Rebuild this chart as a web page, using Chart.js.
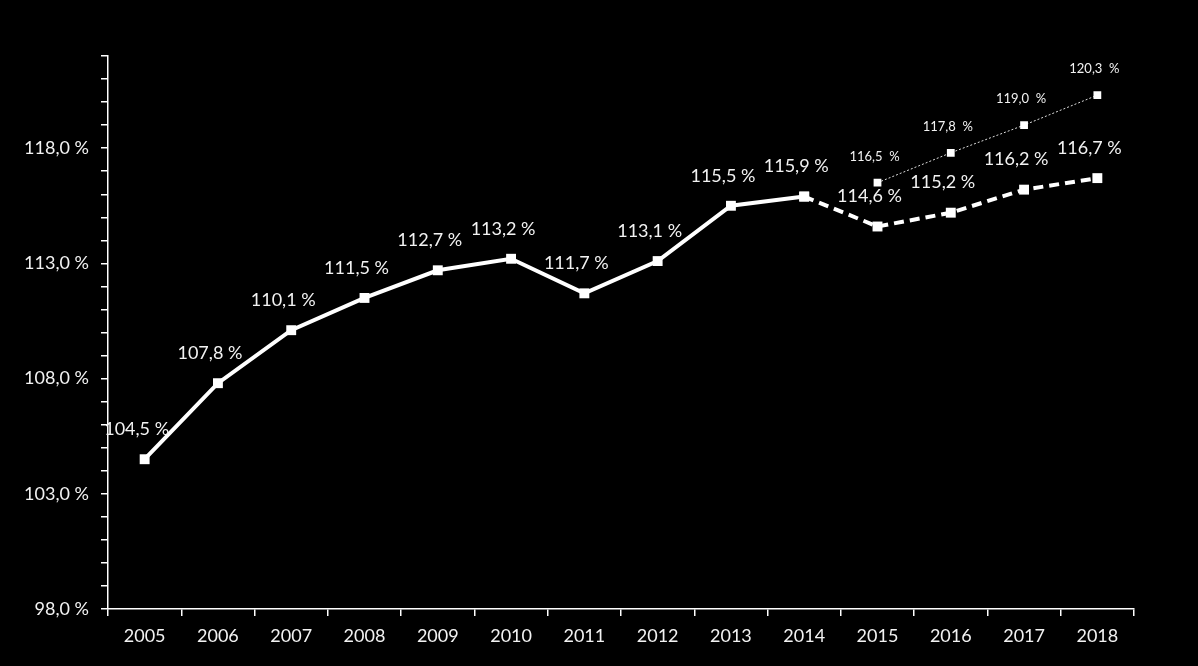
<!DOCTYPE html>
<html>
<head>
<meta charset="utf-8">
<script src="https://cdn.jsdelivr.net/npm/chart.js@4/dist/chart.umd.min.js"></script>
<style>
    html, body { margin: 0; padding: 0; background: #000; }
    #wrap { width: 1198px; height: 666px; }
</style>
</head>
<body>
<div id="wrap"><canvas id="chart" width="1198" height="666"></canvas></div>
<script>
// Data -----------------------------------------------------------------------------------

var YEARS = ['2005', '2006', '2007', '2008', '2009', '2010', '2011',
             '2012', '2013', '2014', '2015', '2016', '2017', '2018'];

// actual values 2005-2014
var ACTUAL = [104.5, 107.8, 110.1, 111.5, 112.7, 113.2, 111.7, 113.1, 115.5, 115.9,
              null, null, null, null];

// forecast (dashed), starts from 2014
var FORECAST = [null, null, null, null, null, null, null, null, null, 115.9,
                114.6, 115.2, 116.2, 116.7];

// alternative scenario (thin dotted)
var SCENARIO = [null, null, null, null, null, null, null, null, null, null,
                116.5, 117.8, 119.0, 120.3];

var Y_MIN = 98;
var Y_MAX = 122;

// Constants ------------------------------------------------------------------------------

var FONT = 'Lato, "Open Sans", sans-serif';
var TEXT_COLOR = '#f2f2f2';

// Functions ------------------------------------------------------------------------------

function formatPercent(v, sep) {
    return v.toFixed(1).replace('.', ',') + (sep || ' ') + '%';
}

var pointLabels = {
    id: 'pointLabels',
    afterDatasetsDraw: function(chart) {
        var ctx = chart.ctx;
        ctx.save();
        ctx.fillStyle = TEXT_COLOR;
        ctx.textAlign = 'center';
        ctx.textBaseline = 'middle';
        chart.data.datasets.forEach(function(ds, i) {
            var opts = ds.labelOpts;
            if (!opts) return;
            var meta = chart.getDatasetMeta(i);
            ctx.font = opts.size + 'px ' + FONT;
            meta.data.forEach(function(pt, j) {
                var v = ds.data[j];
                if (v === null || j < opts.from) return;
                ctx.fillText(formatPercent(v, opts.sep), pt.x + opts.dx, pt.y + opts.dy);
            });
        });
        ctx.restore();
    }
};

var context = document.getElementById('chart').getContext('2d');

var chart = new Chart(context, {
    type: 'line',
    data: {
        labels: YEARS,
        datasets: [{
            data: ACTUAL,
            borderColor: '#fff',
            borderWidth: 4,
            pointStyle: 'rect',
            pointRadius: 7,
            pointBackgroundColor: '#fff',
            pointBorderWidth: 0,
            tension: 0,
            labelOpts: { size: 18, dx: -8, dy: -30, from: 0 }
        }, {
            data: FORECAST,
            borderColor: '#fff',
            borderWidth: 4,
            borderDash: [10, 6],
            pointStyle: 'rect',
            pointRadius: 7,
            pointBackgroundColor: '#fff',
            pointBorderWidth: 0,
            tension: 0,
            labelOpts: { size: 18, dx: -8, dy: -30, from: 10 }
        }, {
            data: SCENARIO,
            borderColor: '#ddd',
            borderWidth: 1,
            borderDash: [2, 2],
            pointStyle: 'rect',
            pointRadius: 5.5,
            pointBackgroundColor: '#fff',
            pointBorderWidth: 0,
            tension: 0,
            labelOpts: { size: 13, dx: -3, dy: -26, from: 0, sep: '  ' }
        }]
    },
    options: {
        responsive: false,
        animation: false,
        spanGaps: false,
        layout: { padding: { left: 0, top: 56, right: 64, bottom: 0 } },
        plugins: {
            legend: { display: false },
            tooltip: { enabled: false }
        },
        scales: {
            x: {
                offset: true,
                grid: {
                    offset: true,
                    drawOnChartArea: false,
                    color: '#fff',
                    tickLength: 7,
                    lineWidth: 1.5
                },
                border: { color: '#fff', width: 1.5 },
                ticks: {
                    color: TEXT_COLOR,
                    font: { family: FONT, size: 18 },
                    padding: 9,
                    maxRotation: 0
                },
                afterFit: function(scale) { scale.height = 57; }
            },
            y: {
                min: Y_MIN,
                max: Y_MAX,
                grid: {
                    drawOnChartArea: false,
                    color: '#fff',
                    tickLength: 7,
                    lineWidth: 1.5
                },
                border: { color: '#fff', width: 1.5 },
                ticks: {
                    stepSize: 1,
                    autoSkip: false,
                    color: TEXT_COLOR,
                    font: { family: FONT, size: 18 },
                    padding: 12,
                    callback: function(v) {
                        return (v - Y_MIN) % 5 === 0 ? formatPercent(v) : '';
                    }
                },
                afterFit: function(scale) { scale.width = 108; }
            }
        }
    },
    plugins: [pointLabels]
});
</script>
</body>
</html>
